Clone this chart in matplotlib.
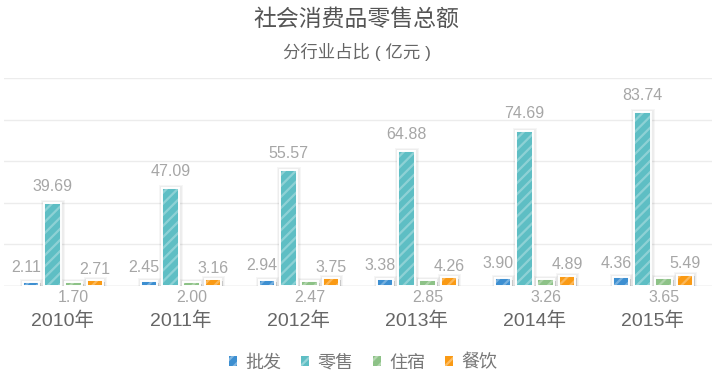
import matplotlib
matplotlib.use("Agg")
import matplotlib.pyplot as plt
import matplotlib.patheffects as pe
from matplotlib.patches import Patch
import numpy as np

plt.rcParams["font.family"] = ["Liberation Sans", "Noto Sans CJK SC", "DejaVu Sans"]
plt.rcParams["hatch.linewidth"] = 1.6

years = ["2010年", "2011年", "2012年", "2013年", "2014年", "2015年"]
series = ["批发", "零售", "住宿", "餐饮"]
wholesale = [2.11, 2.45, 2.94, 3.38, 3.90, 4.36]
retail = [39.69, 47.09, 55.57, 64.88, 74.69, 83.74]
lodging = [1.70, 2.00, 2.47, 2.85, 3.26, 3.65]
catering = [2.71, 3.16, 3.75, 4.26, 4.89, 5.49]
values = [wholesale, retail, lodging, catering]

colors = ["#3d8fd1", "#5ebec4", "#8dc287", "#fa9a14"]
# label offsets in points (dx, dy) from bar top, per series
label_offsets = [(-3.5, 10), (0, 12), (0, None), (0, 8)]

fig = plt.figure(figsize=(7.13, 3.81), dpi=100)
ax = fig.add_axes([4 / 713, 95 / 381, 708 / 713, 208 / 381])

x = np.arange(len(years))
step = 0.18
width = 0.138
# soft glow + drop shadow so the white border shows
shadow = [
    pe.Stroke(linewidth=5, foreground=(0, 0, 0, 0.035)),
    pe.Stroke(linewidth=3.5, foreground=(0, 0, 0, 0.04)),
    pe.SimplePatchShadow(offset=(1.3, -1.3), shadow_rgbFace="#777777", alpha=0.3),
    pe.Normal(),
]

for i, (vals, col) in enumerate(zip(values, colors)):
    pos = x + (i - 1.5) * step
    bars = ax.bar(pos, vals, width, color=col, edgecolor="white", linewidth=1.4, zorder=3)
    for b in bars:
        b.set_path_effects(shadow)
    ax.bar(pos, vals, width, facecolor="none", edgecolor=(1, 1, 1, 0.3),
           hatch="///", linewidth=0, zorder=4)
    dx, dy = label_offsets[i]
    for p, v in zip(pos, vals):
        if dy is None:
            ax.annotate(f"{v:.2f}", (p, 0), xytext=(dx, -8), textcoords="offset points",
                        ha="center", va="center", fontsize=11.5, color="#a6a6a6", zorder=5)
        else:
            ax.annotate(f"{v:.2f}", (p, v), xytext=(dx, dy), textcoords="offset points",
                        ha="center", va="center", fontsize=11.5, color="#a6a6a6", zorder=5)

ax.set_xlim(-0.5, len(years) - 0.5)
ax.set_ylim(0, 100)
ax.set_yticks(np.arange(0, 101, 20))
ax.yaxis.grid(True, color="#ececec", linewidth=1)
ax.set_axisbelow(True)
ax.tick_params(axis="y", left=False, labelleft=False)
ax.set_xticks(x)
ax.set_xticklabels(years, fontsize=14, color="#666666")
ax.tick_params(axis="x", bottom=False, pad=15)
for s in ax.spines.values():
    s.set_visible(False)
ax.axhline(0, color="#dddddd", linewidth=1, zorder=2)

fig.text(0.5, 1 - 19 / 381, "社会消费品零售总额", ha="center", va="center",
         fontsize=16.5, color="#555555")
fig.text(0.5, 1 - 52 / 381, "分行业占比 ( 亿元 )", ha="center", va="center",
         fontsize=12.5, color="#666666")

handles = [Patch(facecolor=c, edgecolor=(1, 1, 1, 0.35), hatch="///", linewidth=0) for c in colors]
ax.legend(handles, series, loc="center", bbox_to_anchor=(363 / 713, 18 / 381),
          bbox_transform=fig.transFigure, ncol=4, frameon=False, fontsize=13,
          labelcolor="#777777", handlelength=0.45, handleheight=0.45,
          handletextpad=0.45, columnspacing=1.1)

fig.savefig("out.png", dpi=100)
